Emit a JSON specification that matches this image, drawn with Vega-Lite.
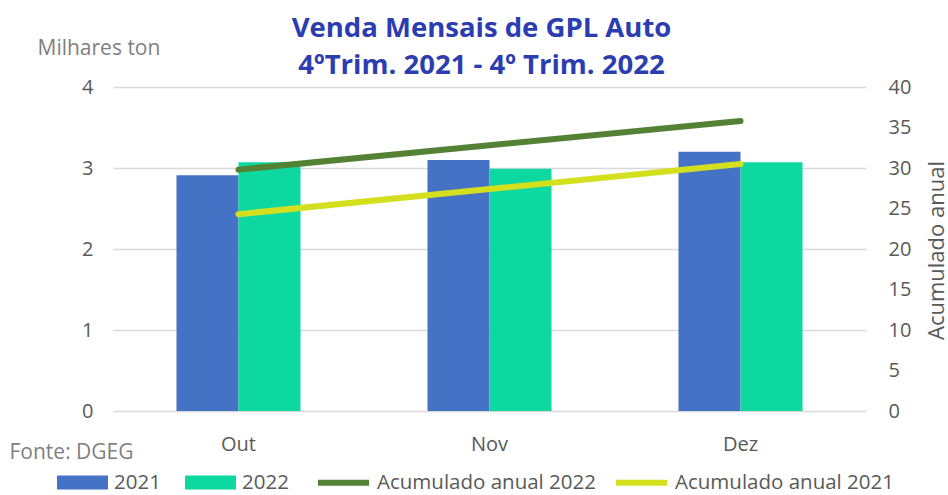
{
  "$schema": "https://vega.github.io/schema/vega-lite/v6.json",
  "width": 753,
  "height": 324,
  "autosize": {"type": "none"},
  "padding": {"left": 113, "top": 87, "right": 82, "bottom": 84},
  "background": "white",
  "config": {
    "view": {"stroke": null},
    "font": "Open Sans"
  },
  "title": {
    "text": ["Venda Mensais de GPL Auto", "4ºTrim. 2021 - 4º Trim. 2022"],
    "color": "#2B3DB0",
    "font": "Open Sans",
    "fontSize": 27.5,
    "fontWeight": "bold",
    "lineHeight": 37,
    "offset": 0,
    "dy": 42,
    "dx": -8
  },
  "data": {
    "values": [
      {"month": "Out", "series": "2021", "type": "bar", "value": 2.91},
      {"month": "Out", "series": "2022", "type": "bar", "value": 3.07},
      {"month": "Nov", "series": "2021", "type": "bar", "value": 3.10},
      {"month": "Nov", "series": "2022", "type": "bar", "value": 2.99},
      {"month": "Dez", "series": "2021", "type": "bar", "value": 3.20},
      {"month": "Dez", "series": "2022", "type": "bar", "value": 3.07},
      {"month": "Out", "series": "Acumulado anual 2022", "type": "line", "value": 29.8},
      {"month": "Nov", "series": "Acumulado anual 2022", "type": "line", "value": 32.8},
      {"month": "Dez", "series": "Acumulado anual 2022", "type": "line", "value": 35.8},
      {"month": "Out", "series": "Acumulado anual 2021", "type": "line", "value": 24.3},
      {"month": "Nov", "series": "Acumulado anual 2021", "type": "line", "value": 27.4},
      {"month": "Dez", "series": "Acumulado anual 2021", "type": "line", "value": 30.5}
    ]
  },
  "encoding": {
    "x": {
      "field": "month",
      "type": "nominal",
      "sort": ["Out", "Nov", "Dez"],
      "scale": {"paddingInner": 0.506, "paddingOuter": 0.253},
      "axis": {
        "labelAngle": 0,
        "labelFontSize": 20,
        "labelColor": "#595959",
        "labelPadding": 23,
        "ticks": false,
        "domain": false,
        "title": "Fonte: DGEG",
        "titleX": -104,
        "titleY": 41,
        "titleAnchor": "start",
        "titleAlign": "left",
        "titleBaseline": "middle",
        "titleColor": "#7F7F7F",
        "titleFontWeight": "normal",
        "titleFontSize": 21
      }
    }
  },
  "layer": [
    {
      "transform": [{"filter": "datum.type === 'bar'"}],
      "mark": {"type": "bar"},
      "encoding": {
        "xOffset": {"field": "series", "type": "nominal", "sort": ["2021", "2022"]},
        "y": {
          "field": "value",
          "type": "quantitative",
          "scale": {"domain": [0, 4]},
          "axis": {
            "values": [0, 1, 2, 3, 4],
            "grid": true,
            "gridColor": "#D9D9D9",
            "gridWidth": 1.5,
            "ticks": false,
            "domain": false,
            "labelFontSize": 20,
            "labelColor": "#595959",
            "labelPadding": 20,
            "title": "Milhares ton",
            "titleAngle": 0,
            "titleX": -76,
            "titleY": -39,
            "titleAlign": "left",
            "titleBaseline": "middle",
            "titleColor": "#7F7F7F",
            "titleFontWeight": "normal",
            "titleFontSize": 21
          }
        },
        "fill": {
          "field": "series",
          "type": "nominal",
          "scale": {"domain": ["2021", "2022"], "range": ["#4472C4", "#0DD8A0"]},
          "legend": {
            "title": null,
            "orient": "none",
            "direction": "horizontal",
            "legendX": -56,
            "legendY": 370,
            "symbolType": "M-1,-0.275H1V0.275H-1Z",
            "symbolSize": 2601,
            "symbolStrokeWidth": 0,
            "labelFontSize": 20.5,
            "labelColor": "#595959",
            "labelOffset": 6,
            "labelLimit": 0,
            "columnPadding": 24
          }
        }
      }
    },
    {
      "transform": [{"filter": "datum.type === 'line'"}],
      "mark": {"type": "line", "strokeWidth": 6, "strokeCap": "round"},
      "encoding": {
        "y": {
          "field": "value",
          "type": "quantitative",
          "scale": {"domain": [0, 40]},
          "axis": {
            "orient": "right",
            "values": [0, 5, 10, 15, 20, 25, 30, 35, 40],
            "grid": false,
            "ticks": false,
            "domain": false,
            "labelFontSize": 20,
            "labelColor": "#595959",
            "labelPadding": 22,
            "title": "Acumulado anual",
            "titleAngle": 270,
            "titleX": 70,
            "titleY": 163,
            "titleAlign": "center",
            "titleBaseline": "middle",
            "titleColor": "#595959",
            "titleFontWeight": "normal",
            "titleFontSize": 22
          }
        },
        "stroke": {
          "field": "series",
          "type": "nominal",
          "scale": {"domain": ["Acumulado anual 2022", "Acumulado anual 2021"], "range": ["#548235", "#D4DF1E"]},
          "legend": {
            "title": null,
            "orient": "none",
            "direction": "horizontal",
            "legendX": 202,
            "legendY": 367,
            "symbolType": "stroke",
            "symbolSize": 2601,
            "symbolStrokeWidth": 6,
            "labelFontSize": 20.5,
            "labelColor": "#595959",
            "labelOffset": 5,
            "labelLimit": 0,
            "columnPadding": 8
          }
        }
      }
    }
  ],
  "resolve": {"scale": {"y": "independent", "fill": "independent", "stroke": "independent"}}
}
